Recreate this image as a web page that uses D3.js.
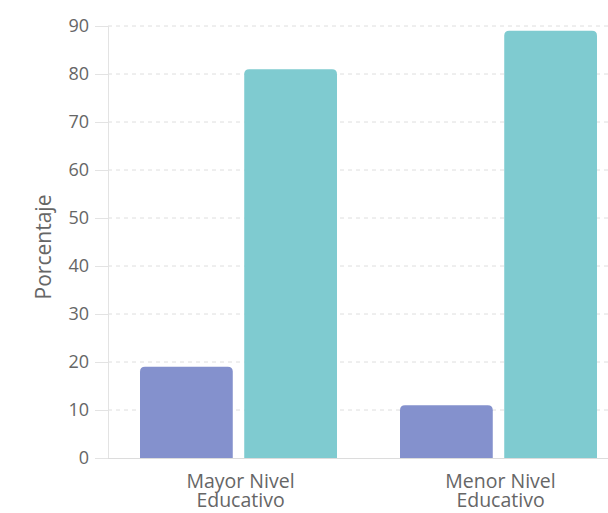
<!DOCTYPE html>
<html><head><meta charset="utf-8">
<script src="https://cdn.jsdelivr.net/npm/d3@7"></script>
<style>body{margin:0;background:#fff}svg{display:block}</style>
</head><body>
<script>
const categories = [["Mayor Nivel","Educativo"],["Menor Nivel","Educativo"]];
const seriesA = [19, 11];
const seriesB = [81, 89];
const yTicks = [0,10,20,30,40,50,60,70,80,90];
const colors = ["#8491cd", "#7fcbd0"];

const W = 608, H = 513;
const svg = d3.select("body").append("svg").attr("width", W).attr("height", H);
const font = "'Open Sans', 'Liberation Sans', Arial, sans-serif";

const x0 = d3.scaleBand().domain(d3.range(categories.length)).range([108, 628]).paddingInner(0).paddingOuter(0);
const y = d3.scaleLinear().domain([0, 90]).range([458, 26]);
const x1 = d3.scaleBand().domain([0,1]).range([32, 229]).paddingInner(0.11);

// gridlines
svg.append("g").selectAll("line").data(yTicks.filter(d => d > 0)).join("line")
  .attr("x1", 108).attr("x2", W).attr("y1", d => y(d)).attr("y2", d => y(d))
  .attr("stroke", "#dedede").attr("stroke-dasharray", "4,4").attr("stroke-width", 1);

// y axis
const yAxis = svg.append("g").attr("transform", "translate(108,0)")
  .call(d3.axisLeft(y).tickValues(yTicks).tickSize(13).tickPadding(6));
yAxis.select(".domain").attr("stroke", "#e3e3e3");
yAxis.selectAll(".tick line").attr("stroke", "#e3e3e3");
yAxis.selectAll(".tick text").attr("fill", "#666").style("font-family", font).style("font-size", "18px");

// baseline
svg.append("line").attr("x1", 108).attr("x2", W).attr("y1", y(0)+0.5).attr("y2", y(0)+0.5).attr("stroke", "#dcdcdc");

// bars
const data = categories.map((c, i) => [seriesA[i], seriesB[i]]);
const r = 5;
function barPath(x, w, yTop, yBot) {
  return `M${x},${yBot}V${yTop + r}Q${x},${yTop} ${x + r},${yTop}H${x + w - r}Q${x + w},${yTop} ${x + w},${yTop + r}V${yBot}Z`;
}
const groups = svg.append("g").selectAll("g").data(data).join("g")
  .attr("transform", (d, i) => `translate(${x0(i)},0)`);
groups.selectAll("path").data(d => d).join("path")
  .attr("d", (d, j) => barPath(x1(j), x1.bandwidth(), y(d), y(0)))
  .attr("fill", (d, j) => colors[j]);

// x labels
const lab = svg.append("g").selectAll("text").data(categories).join("text")
  .attr("x", (d, i) => x0(i) + x1(0) + (x1(1) + x1.bandwidth() - x1(0)) / 2 + 2)
  .attr("y", 488)
  .attr("text-anchor", "middle").attr("fill", "#666")
  .style("font-family", font).style("font-size", "19.5px");
lab.each(function(d) {
  d3.select(this).selectAll("tspan").data(d).join("tspan")
    .attr("x", d3.select(this).attr("x")).attr("dy", (t, k) => k === 0 ? 0 : 19).text(t => t);
});

// y title
svg.append("text").attr("transform", "translate(51,247) rotate(-90)")
  .attr("text-anchor", "middle").attr("fill", "#666")
  .style("font-family", font).style("font-size", "21px").text("Porcentaje");
</script>
</body></html>
